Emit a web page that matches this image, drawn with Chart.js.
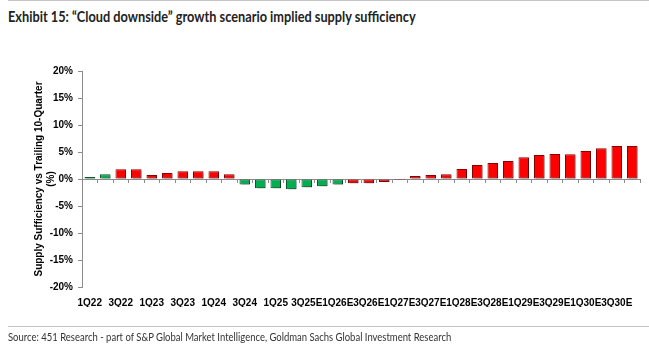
<!DOCTYPE html>
<html>
<head>
<meta charset="utf-8">
<script src="https://cdn.jsdelivr.net/npm/chart.js@4/dist/chart.umd.min.js"></script>
<style>
  html, body { margin: 0; padding: 0; background: #fff; }
  #wrap { position: relative; width: 649px; height: 350px; overflow: hidden; }
  #grafico { position: absolute; left: 0; top: 0; }
  .linea { position: absolute; left: 8px; right: 0; height: 1px; background: #c4c4c4; }
  #titulo { position: absolute; left: 8px; top: 9px; font: bold 15px Lato, sans-serif; line-height: 15px; color: #222; white-space: nowrap; transform: scaleX(0.85); transform-origin: 0 0; }
  #fuente { position: absolute; left: 8px; top: 331px; font: 12px Lato, sans-serif; line-height: 12px; color: #333; white-space: nowrap; transform: scaleX(0.79); transform-origin: 0 0; }
</style>
</head>
<body>
<div id="wrap">
  <div class="linea" style="top:0"></div>
  <div id="titulo">Exhibit 15: “Cloud downside” growth scenario implied supply sufficiency</div>
  <canvas id="grafico" width="649" height="350"></canvas>
  <div class="linea" style="top:326px"></div>
  <div id="fuente">Source: 451 Research - part of S&amp;P Global Market Intelligence, Goldman Sachs Global Investment Research</div>
</div>
<script>
// trimestres (36)
const trimestres = [
  '1Q22', '2Q22', '3Q22', '4Q22',
  '1Q23', '2Q23', '3Q23', '4Q23',
  '1Q24', '2Q24', '3Q24', '4Q24',
  '1Q25', '2Q25', '3Q25E', '4Q25E',
  '1Q26E', '2Q26E', '3Q26E', '4Q26E',
  '1Q27E', '2Q27E', '3Q27E', '4Q27E',
  '1Q28E', '2Q28E', '3Q28E', '4Q28E',
  '1Q29E', '2Q29E', '3Q29E', '4Q29E',
  '1Q30E', '2Q30E', '3Q30E', '4Q30E'
];

// suficiencia de oferta vs trailing 10 trimestres (%)
const suficiencia = [
  0.35, 0.9, 1.8, 1.8,
  0.75, 1.1, 1.45, 1.45,
  1.45, 0.9, -1.0, -1.7,
  -1.7, -1.9, -1.55, -1.35,
  -1.0, -0.8, -0.8, -0.55,
  -0.2, 0.55, 0.75, 0.9,
  1.85, 2.6, 2.95, 3.35,
  4.05, 4.45, 4.65, 4.6,
  5.2, 5.7, 6.1, 6.1
];

// trimestres marcados en verde
const trimestresVerdes = ['1Q22', '2Q22', '3Q24', '4Q24', '1Q25', '2Q25', '3Q25E', '4Q25E', '1Q26E'];

const ejeY = [-20, 20, 5];

const esVerde = trimestres.map(t => trimestresVerdes.includes(t));

// sombra de las barras
const sombra = {
  id: 'sombra',
  beforeDatasetsDraw(chart) {
    const c = chart.ctx;
    c.save();
    c.shadowColor = 'rgba(0,0,0,0.3)';
    c.shadowOffsetX = 2;
    c.shadowOffsetY = 1;
    c.shadowBlur = 0;
  },
  afterDatasetsDraw(chart) {
    chart.ctx.restore();
  }
};

// titulo del eje Y en dos lineas
const tituloY = {
  id: 'tituloY',
  afterDraw(chart) {
    const c = chart.ctx;
    const a = chart.chartArea;
    const yc = (a.top + a.bottom) / 2;
    c.save();
    c.fillStyle = '#000';
    c.font = 'bold 10px "Liberation Sans", Arial, sans-serif';
    c.textAlign = 'center';
    c.textBaseline = 'middle';
    c.translate(39, yc);
    c.rotate(-Math.PI / 2);
    c.fillText('Supply Sufficiency vs Trailing 10-Quarter', 0, 0);
    c.fillText('(%)', 0, 12);
    c.restore();
  }
};

const fuenteEje = { family: '"Liberation Sans", Arial, sans-serif', size: 10, weight: 'bold' };

const ctx = document.getElementById('grafico').getContext('2d');
const grafico = new Chart(ctx, {
  type: 'bar',
  data: {
    labels: trimestres,
    datasets: [{
      label: 'Supply sufficiency',
      data: suficiencia,
      backgroundColor: esVerde.map(v => v ? '#00b050' : '#ff0000'),
      borderColor: esVerde.map(v => v ? '#0b5a2c' : '#8a0000'),
      borderWidth: 1,
      borderSkipped: false,
      categoryPercentage: 0.68,
      barPercentage: 1
    }]
  },
  options: {
    responsive: false,
    animation: false,
    layout: { padding: { left: 0, top: 71, right: 9, bottom: 43 } },
    plugins: {
      legend: { display: false },
      tooltip: { enabled: false },
      title: { display: false }
    },
    scales: {
      x: {
        type: 'category',
        position: 'bottom',
        offset: true,
        grid: { display: false },
        border: { display: false },
        ticks: {
          autoSkip: false,
          maxRotation: 0,
          minRotation: 0,
          padding: 2,
          color: '#000',
          font: fuenteEje,
          callback: function(v, i) { return i % 2 === 0 ? this.getLabelForValue(v) : ''; }
        },
        afterFit: s => { s.height = 20; }
      },
      x0: {
        type: 'category',
        position: { y: 0 },
        offset: true,
        grid: { offset: true, drawOnChartArea: false, drawTicks: true, tickLength: 3, color: '#8c8c8c' },
        border: { display: true, color: '#8c8c8c', width: 1 },
        ticks: { display: false }
      },
      y: {
        min: ejeY[0],
        max: ejeY[1],
        grid: { drawOnChartArea: false, tickLength: 4, color: '#8c8c8c' },
        border: { color: '#8c8c8c' },
        ticks: {
          stepSize: ejeY[2],
          padding: 5,
          color: '#000',
          font: fuenteEje,
          callback: v => v + '%'
        },
        afterFit: s => { s.width = 82; }
      }
    }
  },
  plugins: [sombra, tituloY]
});
</script>
</body>
</html>
